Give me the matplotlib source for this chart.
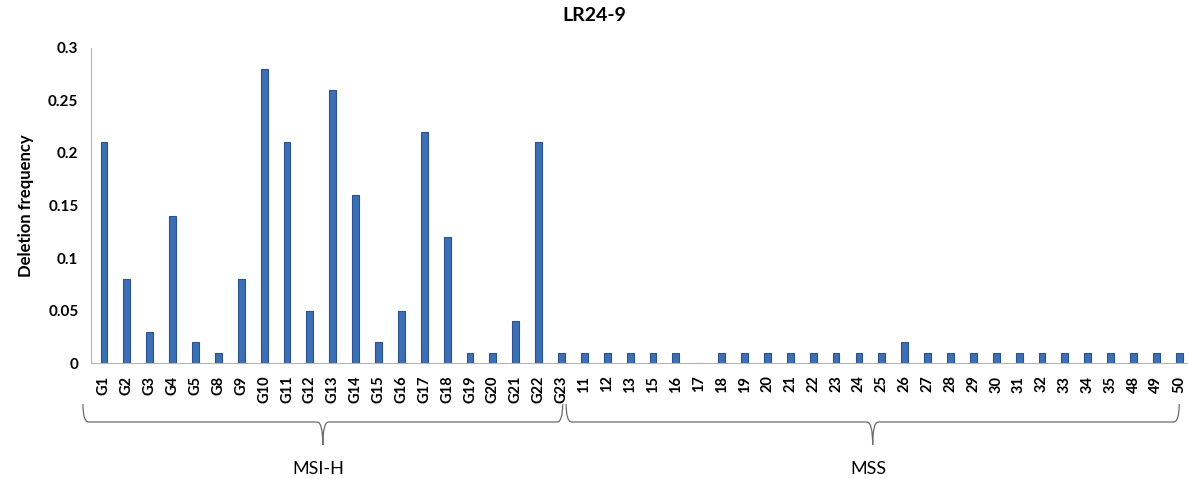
import matplotlib.pyplot as plt
from matplotlib.path import Path
from matplotlib.patches import PathPatch
from matplotlib.transforms import blended_transform_factory

plt.rcParams['font.family'] = ['Lato', 'DejaVu Sans']

msi_labels = ["G1", "G2", "G3", "G4", "G5", "G8", "G9", "G10", "G11", "G12", "G13",
              "G14", "G15", "G16", "G17", "G18", "G19", "G20", "G21", "G22", "G23"]
msi_values = [0.21, 0.08, 0.03, 0.14, 0.02, 0.01, 0.08, 0.28, 0.21, 0.05, 0.26,
              0.16, 0.02, 0.05, 0.22, 0.12, 0.01, 0.01, 0.04, 0.21, 0.01]
mss_labels = ["11", "12", "13", "15", "16", "17", "18", "19", "20", "21", "22", "23",
              "24", "25", "26", "27", "28", "29", "30", "31", "32", "33", "34", "35",
              "48", "49", "50"]
mss_values = [0.01, 0.01, 0.01, 0.01, 0.01, 0.0, 0.01, 0.01, 0.01, 0.01, 0.01, 0.01,
              0.01, 0.01, 0.02, 0.01, 0.01, 0.01, 0.01, 0.01, 0.01, 0.01, 0.01, 0.01,
              0.01, 0.01, 0.01]

labels = msi_labels + mss_labels
values = msi_values + mss_values
x = list(range(len(labels)))

fig = plt.figure(figsize=(11.89, 4.79), dpi=100)
ax = fig.add_axes([0.0765, 0.242, 0.922, 0.658])
ax.bar(x, values, width=0.3, color="#3d6fb6", edgecolor="#2b528e", linewidth=0.8)

ax.set_xlim(-0.57, 47.35)
ax.set_ylim(0, 0.3)
ax.set_yticks([0, 0.05, 0.1, 0.15, 0.2, 0.25, 0.3])
ax.set_yticklabels(["0", "0.05", "0.1", "0.15", "0.2", "0.25", "0.3"],
                   fontsize=11, fontweight="bold")
ax.set_xticks(x)
ax.set_xticklabels(labels, rotation=90, fontsize=10.5, fontweight="bold")
ax.tick_params(length=0)
ax.tick_params(axis="x", pad=9)
ax.tick_params(axis="y", pad=9)
for s in ["top", "right"]:
    ax.spines[s].set_visible(False)
for s in ["left", "bottom"]:
    ax.spines[s].set_color("#b5b5b5")
ax.set_ylabel("Deletion frequency", fontsize=12, fontweight="bold", labelpad=10)
fig.suptitle("LR24-9", fontsize=14, fontweight="bold", y=0.985)

trans = blended_transform_factory(ax.transData, ax.transAxes)


def brace(x0, x1, label):
    top, mid, bot = -0.13, -0.187, -0.26
    xc = (x0 + x1) / 2
    d = 0.25
    verts = [(x0, top), (x0, mid), (x0 + d, mid),
             (xc - d, mid), (xc, mid), (xc, bot),
             (xc, mid), (xc + d, mid),
             (x1 - d, mid), (x1, mid), (x1, top)]
    codes = [Path.MOVETO, Path.CURVE3, Path.CURVE3,
             Path.LINETO, Path.CURVE3, Path.CURVE3,
             Path.CURVE3, Path.CURVE3,
             Path.LINETO, Path.CURVE3, Path.CURVE3]
    ax.add_patch(PathPatch(Path(verts, codes), transform=trans, fill=False,
                           edgecolor="#6b6b6b", linewidth=0.9, clip_on=False))
    ax.text(xc - 0.2, -0.335, label, transform=trans, ha="center", va="center",
            fontsize=13)


brace(-0.92, 20.05, "MSI-H")
brace(20.2, 47.0, "MSS")

plt.savefig("out.png", dpi=100)
